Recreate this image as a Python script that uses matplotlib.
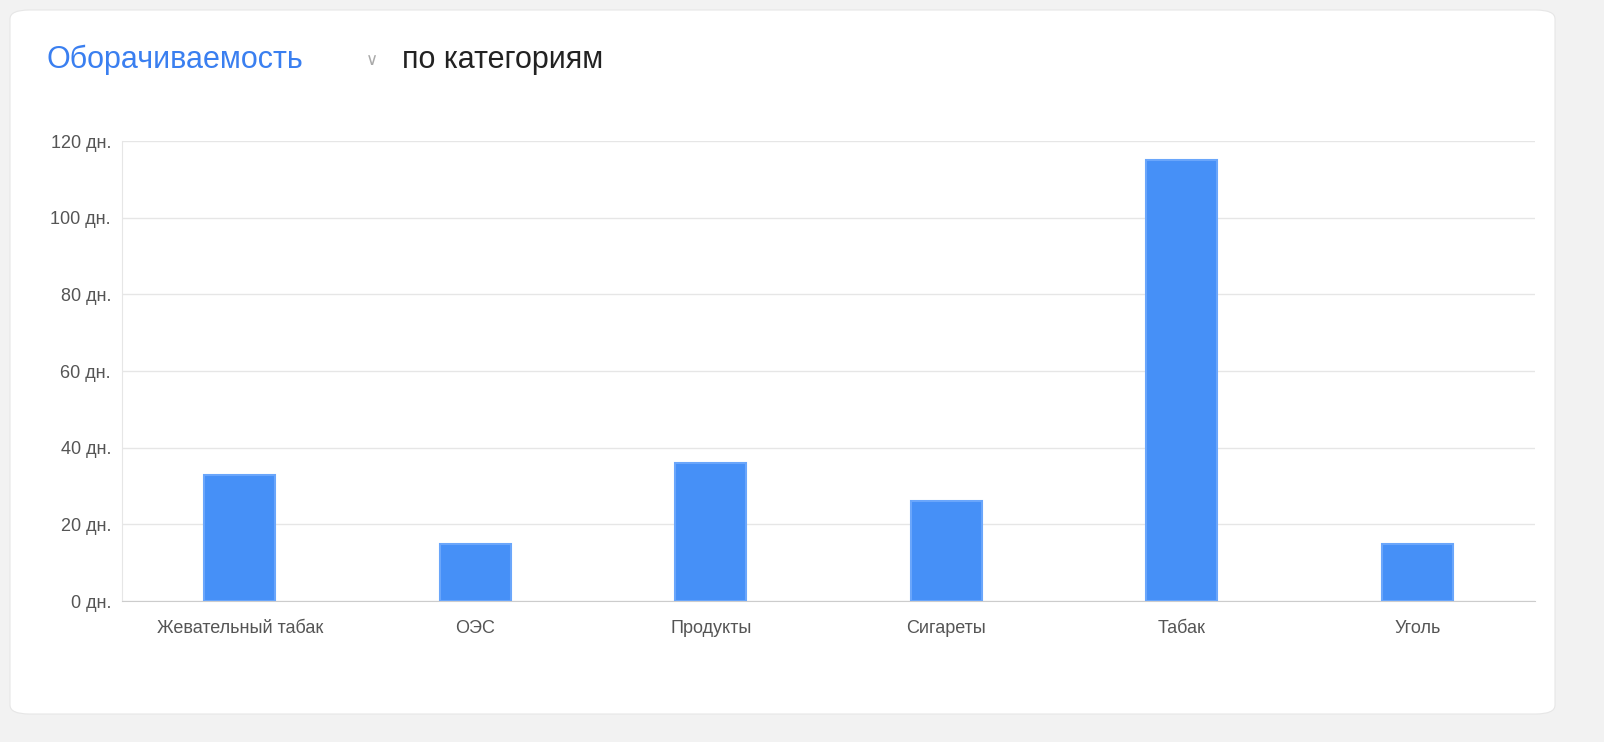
import matplotlib.pyplot as plt
from matplotlib.patches import FancyBboxPatch
from matplotlib.ticker import FuncFormatter

plt.rcParams['font.family'] = ['Liberation Sans', 'DejaVu Sans']

categories = ["Жевательный табак", "ОЭС", "Продукты", "Сигареты", "Табак", "Уголь"]
days = [33, 15, 36, 26, 115, 15]
yticks = [0, 20, 40, 60, 80, 100, 120]

W, H = 1604, 742
fig = plt.figure(figsize=(W / 100, H / 100), dpi=100)
fig.patch.set_facecolor("#f2f2f2")

# white rounded card
card = FancyBboxPatch((10 / W, 28 / H), 1545 / W, 704 / H,
                      boxstyle="round,pad=0,rounding_size=0.012",
                      transform=fig.transFigure, facecolor="white",
                      edgecolor="#e6e6e6", lw=0.8, zorder=-10)
fig.patches.append(card)

fig.text(47 / W, 1 - 60 / H, "Оборачиваемость", color="#3a7ff0", fontsize=22,
         va="center", ha="left")
fig.text(372 / W, 1 - 60 / H, "∨", color="#aaaaaa", fontsize=12, va="center", ha="center",
         family=['DejaVu Sans'])
fig.text(402 / W, 1 - 60 / H, "по категориям", color="#222222", fontsize=22,
         va="center", ha="left")

ax = fig.add_axes([122 / W, 1 - 601 / H, 1413 / W, 460 / H])
ax.set_zorder(5)
ax.set_facecolor("none")
x = range(len(categories))
ax.bar(x, days, width=0.3, color="#4690f7", edgecolor="#6aa6fb", lw=1.5, zorder=3)
ax.set_xlim(-0.5, len(categories) - 0.5)
ax.set_ylim(0, 120)
ax.set_yticks(yticks)
ax.yaxis.set_major_formatter(FuncFormatter(lambda v, p: f"{int(v)} дн."))
ax.set_xticks(list(x))
ax.set_xticklabels(categories)
ax.grid(axis="y", color="#e6e6e6", lw=1, zorder=0)
for s in ["top", "right"]:
    ax.spines[s].set_visible(False)
ax.spines["left"].set_color("#e6e6e6")
ax.spines["bottom"].set_color("#cccccc")
ax.tick_params(axis="y", length=0, pad=8, labelsize=13, labelcolor="#555555")
ax.tick_params(axis="x", length=0, pad=14, labelsize=13, labelcolor="#555555")

fig.savefig("out.png", dpi=100, facecolor=fig.get_facecolor())
